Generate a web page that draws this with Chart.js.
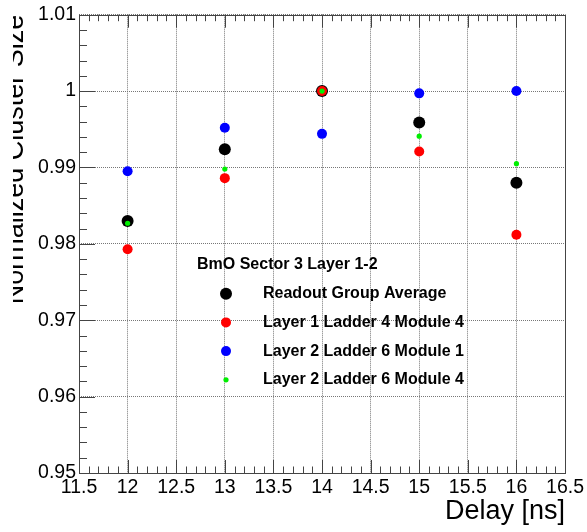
<!DOCTYPE html>
<html lang="en">
<head>
    <meta charset="UTF-8">
    <title>Normalized Cluster Size vs Delay</title>
    <script src="https://cdn.jsdelivr.net/npm/chart.js"></script>
    <style>
        html, body { margin: 0; padding: 0; background: #fff; }
        #chart { display: block; }
    </style>
</head>
<body>
    <canvas id="chart" width="587" height="532"></canvas>

    <script>
        // Data
        const delays = [12, 13, 14, 15, 16];
        const readoutGroupAvg = [0.9830, 0.9924, 1.0000, 0.9959, 0.9880];
        const l1Ladder4Module4 = [0.9793, 0.9886, 1.0000, 0.9921, 0.9812];
        const l2Ladder6Module1 = [0.9895, 0.9952, 0.9944, 0.9997, 1.0000];
        const l2Ladder6Module4 = [0.9827, 0.9898, 1.0000, 0.9941, 0.9905];

        const seriesLabels = [
            'Readout Group Average',
            'Layer 1 Ladder 4 Module 4',
            'Layer 2 Ladder 6 Module 1',
            'Layer 2 Ladder 6 Module 4'
        ];
        const legendHeader = 'BmO Sector 3 Layer 1-2';
        const xTitle = 'Delay [ns]';
        const yTitle = 'Normalized Cluster Size';

        const xMin = 11.5, xMax = 16.5, xMajor = 0.5, xMinor = 0.1;
        const yMin = 0.95, yMax = 1.01, yMajor = 0.01, yMinor = 0.002;

        const FONT = "'Liberation Sans', Arial, sans-serif";
        const FRAME = '#444';
        const GRID = '#777';

        function pts(values) {
            return delays.map((d, i) => ({ x: d, y: values[i] }));
        }

        function series(label, values, color, radius, order) {
            return {
                label: label,
                data: pts(values),
                backgroundColor: color,
                borderColor: color,
                borderWidth: 0,
                pointRadius: radius,
                pointHoverRadius: radius,
                pointStyle: 'circle',
                showLine: false,
                order: order
            };
        }

        // plain number labels like ROOT: 12, 12.5, 1, 0.99
        const plainLabel = (v) => String(+v.toFixed(4));

        // ROOT-style inner tick marks + top/right frame
        const frameTicks = {
            id: 'frameTicks',
            beforeDatasetsDraw(chart) {
                const { ctx, chartArea: a, scales: { x, y } } = chart;
                ctx.save();
                ctx.strokeStyle = FRAME;
                ctx.lineWidth = 1;
                ctx.beginPath();
                const nx = Math.round((xMax - xMin) / xMinor);
                for (let i = 0; i <= nx; i++) {
                    const px = Math.round(x.getPixelForValue(xMin + i * xMinor)) + 0.5;
                    const len = i % 5 === 0 ? 13 : 6.5;
                    ctx.moveTo(px, a.bottom); ctx.lineTo(px, a.bottom - len);
                    ctx.moveTo(px, a.top); ctx.lineTo(px, a.top + len);
                }
                const ny = Math.round((yMax - yMin) / yMinor);
                for (let i = 0; i <= ny; i++) {
                    const py = Math.round(y.getPixelForValue(yMin + i * yMinor)) + 0.5;
                    const len = i % 5 === 0 ? 16 : 8;
                    ctx.moveTo(a.left, py); ctx.lineTo(a.left + len, py);
                }
                ctx.stroke();
                ctx.strokeRect(Math.round(a.left) + 0.5, Math.round(a.top) + 0.5,
                    Math.round(a.right - a.left), Math.round(a.bottom - a.top));
                ctx.restore();
            },
            afterDraw(chart) {
                const { ctx, chartArea: a } = chart;
                ctx.save();
                // y title, partly cut at the left like the original
                ctx.beginPath();
                ctx.rect(13, 0, chart.width, chart.height);
                ctx.clip();
                ctx.translate(23, a.top);
                ctx.rotate(-Math.PI / 2);
                ctx.font = '27px ' + FONT;
                ctx.fillStyle = '#000';
                ctx.textAlign = 'right';
                ctx.textBaseline = 'alphabetic';
                ctx.fillText(yTitle, 0, 0);
                ctx.restore();
            }
        };

        // legend drawn inside the frame, no box
        const innerLegend = {
            id: 'innerLegend',
            afterDatasetsDraw(chart) {
                const { ctx, chartArea: a } = chart;
                const left = a.left + 118;
                const top = a.top + 250;
                ctx.save();
                ctx.fillStyle = '#000';
                ctx.font = 'bold 16px ' + FONT;
                ctx.textBaseline = 'middle';
                ctx.textAlign = 'left';
                ctx.fillText(legendHeader, left, top);
                chart.data.datasets.forEach((ds, i) => {
                    const cy = top + 29 + i * 28.7;
                    ctx.beginPath();
                    ctx.fillStyle = ds.backgroundColor;
                    ctx.arc(left + 29, cy, ds.pointRadius, 0, Math.PI * 2);
                    ctx.fill();
                    ctx.fillStyle = '#000';
                    ctx.fillText(ds.label, left + 66, cy);
                });
                ctx.restore();
            }
        };

        new Chart(document.getElementById('chart'), {
            type: 'scatter',
            data: {
                datasets: [
                    series(seriesLabels[0], readoutGroupAvg, '#000000', 6, 4),
                    series(seriesLabels[1], l1Ladder4Module4, '#ff0000', 5, 3),
                    series(seriesLabels[2], l2Ladder6Module1, '#0000ff', 5, 2),
                    series(seriesLabels[3], l2Ladder6Module4, '#00ee00', 2.6, 1)
                ]
            },
            options: {
                responsive: false,
                animation: false,
                devicePixelRatio: 1,
                layout: { padding: { top: 13, right: 21, left: 0, bottom: 0 } },
                plugins: {
                    legend: { display: false },
                    tooltip: { enabled: false }
                },
                scales: {
                    x: {
                        type: 'linear',
                        min: xMin,
                        max: xMax,
                        afterFit: (s) => { s.height = 59; },
                        ticks: {
                            stepSize: xMajor,
                            color: '#000',
                            padding: 3,
                            maxRotation: 0,
                            callback: plainLabel,
                            font: { family: FONT, size: 19.5 }
                        },
                        grid: { color: GRID, drawTicks: false, lineWidth: 1 },
                        border: { display: false, dash: [1, 1] },
                        title: {
                            display: true,
                            text: xTitle,
                            align: 'end',
                            color: '#000',
                            font: { family: FONT, size: 27 },
                            padding: { top: 0, bottom: 4 }
                        }
                    },
                    y: {
                        type: 'linear',
                        min: yMin,
                        max: yMax,
                        afterFit: (s) => { s.width = 79; },
                        ticks: {
                            stepSize: yMajor,
                            color: '#000',
                            padding: 3,
                            callback: plainLabel,
                            font: { family: FONT, size: 19.5 }
                        },
                        grid: { color: GRID, drawTicks: false, lineWidth: 1 },
                        border: { display: false, dash: [1, 1] }
                    }
                }
            },
            plugins: [frameTicks, innerLegend]
        });
    </script>
</body>
</html>
